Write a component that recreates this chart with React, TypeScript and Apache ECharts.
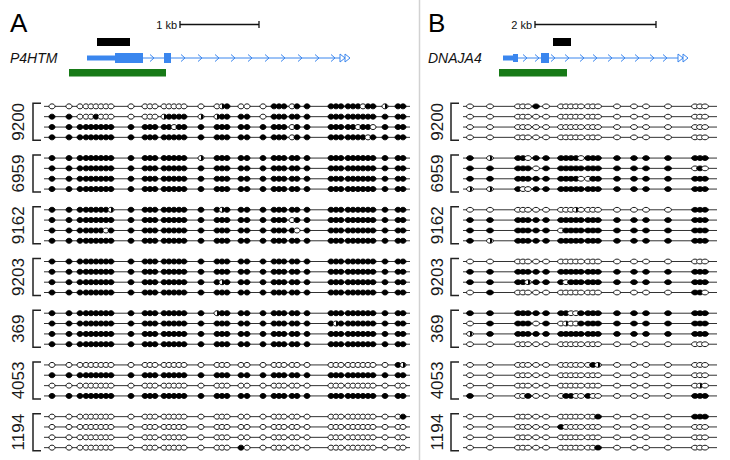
import React, { useEffect, useRef } from "react";
import * as echarts from "echarts";

const samples = ["9200", "6959", "9162", "9203", "369", "4053", "1194"];

// CpG site positions along each amplicon (relative units)
const sitesA = [8, 25, 36, 42, 47, 52, 57, 62, 67, 87, 101, 106, 111, 120, 125, 130, 135, 140, 157, 173, 178, 183, 197, 203, 219, 230, 235, 240, 248, 253, 263, 287, 292, 297, 304, 309, 314, 319, 324, 329, 341, 354, 359];
const sitesB = [7, 27, 55, 60, 65, 73, 83, 98, 103, 108, 113, 118, 125, 130, 135, 154, 171, 183, 205, 232, 237, 242];

// x = methylated, o = unmethylated, h = partially
const a9200 = [
  "ooooooooo o ooo ooooo o ohx oo o xxx oxx xxx xxxoxx h xx",
  "xxoooxooo o ooo hxxxx h hxx xx o xxx xxx xxx xxxxxx x xx",
  "xxxxxxxxx x xxx xxoxx x xxx xx x xxx oxx xxx xxoxxo x xx",
  "xxxxxxxxx x xxx xxxxx x xxx xx x xxx oxx xxx xxxxox x xx",
];
const a6959 = [
  "xxxxxxxxx x xxx xxxxx h xxx xx x xxx xxx xxx xxxxxx x xx",
  "xxxxxxxxx x xxx xxxxx x xxx xx x xxx xxx xxx xxxxxx x xx",
  "xxxxxxxxx x xxx xxxxx x xxx xx x xxx xxx xxx xxxxxx x xx",
  "xxxxxxxxx x xxx xxxxx x xxx xx x xxx xxx xxx xxxxxx x xx",
];
const a9162 = [
  "xxxxxxxxh x xxx xxxxx x xhx xx x xxx xxx xxx xxxxxx x xx",
  "xxxxxxxxx x xxx xxxxx x xxx xx x xxx oxx xxx xxxxxx x xx",
  "xxxxxxxox x xxx xxxxx x xxx xx x xxx xox xxx xxxxxx x xx",
  "xxxxxxxxx x xxx xxxxx x xxx xx x xxx xxx xxx xxxxxx x xx",
];
const a9203 = [
  "xxxxxxxxx x xxx xxxxx x xxx xx x xxx xxx xxx xxxxxx x xx",
  "xxxxxxxxx x xxx xxxxx x xxx xx x xxx xxx xxx xxxxxx x xx",
  "xxxxxxxxx x xxx xxxxx x xhx xx x xxx xxx xxx xxxxxx x xx",
  "xxxxxxxxx x xxx xxxxx x xxx xx x xxx xxx xxx xxxxxx x xx",
];
const a369 = [
  "xxxxxxxxx x xxx xxxxx x hxx xx x xxx xxx xxx xxxxxx x xx",
  "xxxxxxxxx x xxx xxxxx x xxx xx x xxx xxx xhx xxxxxx x xx",
  "xxxxxxxxx x xxx xxxxx x xxx xx x xxx xxx xxx xxxxxx x xx",
  "xxxxxxxxx x xxx xxxxx x xxx xx x xxx xxx xxx xxxxxx x xx",
];
const a4053 = [
  "ooooooooo o ooo ooooo o ooo oo o ooo ooo ooo oooooo o xh",
  "xxxxxxxxx x xxx xxxxx x xxx xx x xxx xxx xxx xxxxxx x xx",
  "ooooooooo o ooo ooooo o ooo oo o ooo ooo ooo oooooo o oo",
  "xxxxxxxxx x xxx xxxxx x xxx xx x xxx xxx xxx xxxxxx x xx",
];
const a1194 = [
  "ooooooooo o ooo ooooo o ooo oo o ooo ooo ooo oooooo o ox",
  "ooooooooo o ooo ooooo o ooo oo o ooo ooo ooo oooooo o oo",
  "ooooooooo o ooo ooooo o ooo oo o ooo ooo ooo oooooo o oo",
  "ooooooooo o ooo ooooo o ooo xo o ooo ooo ooo oooooo o oo",
];

const b9200 = [
  "o o ooo x o ooooo ooo o o o o ooo",
  "o o ooo o o ooooo ooo o o o o ooo",
  "o o ooo o o ooooo ooo o o o o ooo",
  "o o ooo o o ooooo ooo o o o o ooo",
];
const b6959 = [
  "x h xxo x x xxxxo xxx x x x x xxx",
  "x x xxx o x xxxxx xxx x x x x oxo",
  "x x xxx x x xxxxo oxx x x x x xxx",
  "h h xoo x x xxxxx xxx x x x x xxx",
];
const b9162 = [
  "o o ooo o o oooho ooo o o o o xxx",
  "x x xxx x x xxxxx xxx x x x x xxx",
  "x x xxx x x oxxxx xxx x x x x xxx",
  "x h xxx x x xxxxx xxx x x x x xxx",
];
const b9203 = [
  "o o ooo o o ooooo ooo o o o o ooo",
  "x x xxx x x xxxxx xxx x x x x xxx",
  "x x xxh x x xoxxx xxx x x x x xxx",
  "o x ooo o o ooooo ooo o o o o xxo",
];
const b369 = [
  "x x xxx x x xxoox xxx x x x x xxx",
  "o x xxx o x ohoox xxx x x x x xxx",
  "h x xxx x x xxxxx xxx x x x x xxx",
  "o o ooo o o ooooo ooo o o o o ooo",
];
const b4053 = [
  "o o ooo o o ooooo oxh o o o o ooo",
  "o o ooo o o ooooo ooo o o o o ooo",
  "o o ooo o o ooooo ooo o o o o oho",
  "x o oox o o oxxoo xoo o o o o xxx",
];
const b1194 = [
  "o o ooo o o ooooo oox o o o o xxx",
  "o o ooo o o xoooo ooo o o o o ooo",
  "o o ooo o o ooooo ooo o o o o ooo",
  "o o ooo o o ooooo oox o o o o ooo",
];

const panelA = [a9200, a6959, a9162, a9203, a369, a4053, a1194];
const panelB = [b9200, b6959, b9162, b9203, b369, b4053, b1194];

const ROW_OFF = [-15.5, -5.2, 5.2, 15.5];
const FONT = "Liberation Sans, Arial, sans-serif";
const BLUE = "#3a86ee";
const GREEN = "#177a17";

function makeRender(sites: number[], rows: string[][], axisMax: number, labelX: number, bracketX: number, rx: number, ry: number) {
  return (params: any, api: any) => {
    const g = api.value(1);
    const c = api.coord([0, g]);
    const x0 = c[0];
    const cy = c[1];
    const xEnd = api.coord([axisMax, g])[0];
    const children: any[] = [];
    children.push({
      type: "text",
      x: labelX,
      y: cy,
      rotation: Math.PI / 2,
      style: { text: samples[g], fontSize: 17, fontFamily: FONT, fill: "#1a1a1a", align: "center", verticalAlign: "middle" },
    });
    children.push({
      type: "polyline",
      shape: { points: [[bracketX + 8, cy - 18.5], [bracketX, cy - 18.5], [bracketX, cy + 18.5], [bracketX + 8, cy + 18.5]] },
      style: { stroke: "#222", lineWidth: 1.5, fill: null },
    });
    rows[g].forEach((str, r) => {
      const y = cy + ROW_OFF[r];
      children.push({ type: "line", shape: { x1: x0, y1: y, x2: xEnd, y2: y }, style: { stroke: "#333", lineWidth: 1 } });
      const states = str.replace(/ /g, "");
      sites.forEach((s, i) => {
        const x = api.coord([s, g])[0];
        const st = states[i];
        children.push({
          type: "ellipse",
          shape: { cx: x, cy: y, rx, ry },
          style: { fill: st === "x" ? "#000" : "#fff", stroke: "#000", lineWidth: 0.9 },
        });
        if (st === "h") {
          children.push({
            type: "sector",
            shape: { cx: x, cy: y, r0: 0, r: ry, startAngle: -Math.PI / 2, endAngle: Math.PI / 2, clockwise: true },
            style: { fill: "#000" },
          });
        }
      });
    });
    return { type: "group", children };
  };
}

function chevrons(xs: number[], y: number) {
  return xs.map((x) => ({
    type: "polyline",
    shape: { points: [[x - 2, y - 3.5], [x + 2, y], [x - 2, y + 3.5]] },
    style: { stroke: BLUE, lineWidth: 1, fill: null },
  }));
}

function endArrows(x: number, y: number) {
  return [0, 5].map((d) => ({
    type: "polygon",
    shape: { points: [[x + d, y - 4], [x + d + 5, y], [x + d, y + 4]] },
    style: { stroke: BLUE, lineWidth: 1, fill: "#fff" },
  }));
}

function scaleBar(x1: number, x2: number, y: number, label: string) {
  return [
    { type: "line", shape: { x1, y1: y, x2, y2: y }, style: { stroke: "#111", lineWidth: 1.3 } },
    { type: "line", shape: { x1, y1: y - 3.5, x2: x1, y2: y + 3.5 }, style: { stroke: "#111", lineWidth: 1.3 } },
    { type: "line", shape: { x1: x2, y1: y - 3.5, x2, y2: y + 3.5 }, style: { stroke: "#111", lineWidth: 1.3 } },
    { type: "text", x: x1 - 3, y, style: { text: label, fontSize: 11, fontFamily: FONT, fill: "#111", align: "right", verticalAlign: "middle" } },
  ];
}

export default function App() {
  const ref = useRef<HTMLDivElement>(null);
  useEffect(() => {
    if (!ref.current) return;
    const chart = echarts.init(ref.current, null, { renderer: "svg" });
    const graphics: any[] = [
      { type: "line", shape: { x1: 419.5, y1: 0, x2: 419.5, y2: 460 }, style: { stroke: "#d2d2d2", lineWidth: 1.5 } },
      { type: "text", x: 10, y: 23, style: { text: "A", fontSize: 26, fontFamily: FONT, fill: "#000", verticalAlign: "middle" } },
      { type: "text", x: 428, y: 23, style: { text: "B", fontSize: 26, fontFamily: FONT, fill: "#000", verticalAlign: "middle" } },
      ...scaleBar(180, 259, 24.5, "1 kb"),
      ...scaleBar(535, 656, 24.5, "2 kb"),
      { type: "rect", shape: { x: 97, y: 38, width: 33, height: 8 }, style: { fill: "#000" } },
      { type: "rect", shape: { x: 553, y: 38, width: 18, height: 8 }, style: { fill: "#000" } },
      { type: "text", x: 10, y: 58, style: { text: "P4HTM", fontSize: 14, fontStyle: "italic", fontFamily: FONT, fill: "#111", verticalAlign: "middle" } },
      { type: "text", x: 428, y: 58, style: { text: "DNAJA4", fontSize: 14, fontStyle: "italic", fontFamily: FONT, fill: "#111", verticalAlign: "middle" } },
      // gene model A
      { type: "line", shape: { x1: 87, y1: 58, x2: 340, y2: 58 }, style: { stroke: BLUE, lineWidth: 1 } },
      ...chevrons([152, 183, 200, 217, 233, 250, 267, 283, 300, 317, 333], 58),
      ...endArrows(340, 58),
      { type: "rect", shape: { x: 87, y: 55.5, width: 28, height: 5 }, style: { fill: BLUE } },
      { type: "rect", shape: { x: 115, y: 53, width: 28, height: 10 }, style: { fill: BLUE } },
      { type: "rect", shape: { x: 164, y: 53, width: 7, height: 10 }, style: { fill: BLUE } },
      { type: "rect", shape: { x: 69, y: 69, width: 97, height: 7.5 }, style: { fill: GREEN } },
      // gene model B
      { type: "line", shape: { x1: 503, y1: 58, x2: 678, y2: 58 }, style: { stroke: BLUE, lineWidth: 1 } },
      ...chevrons([525, 537, 553, 567, 582, 595, 610, 623, 637, 652, 665], 58),
      ...endArrows(678, 58),
      { type: "rect", shape: { x: 503, y: 55.5, width: 11, height: 5 }, style: { fill: BLUE } },
      { type: "rect", shape: { x: 513, y: 54, width: 5, height: 8 }, style: { fill: BLUE } },
      { type: "rect", shape: { x: 541, y: 53, width: 8, height: 10 }, style: { fill: BLUE } },
      { type: "rect", shape: { x: 499, y: 69, width: 68, height: 7.5 }, style: { fill: GREEN } },
    ];
    const data = samples.map((_, i) => [0, i]);
    chart.setOption({
      animation: false,
      backgroundColor: "#fff",
      graphic: graphics,
      grid: [
        { left: 44, width: 366, top: 96, height: 362 },
        { left: 463, width: 254, top: 96, height: 362 },
      ],
      xAxis: [
        { type: "value", gridIndex: 0, min: 0, max: 366, show: false },
        { type: "value", gridIndex: 1, min: 0, max: 254, show: false },
      ],
      yAxis: [
        { type: "category", gridIndex: 0, data: samples, inverse: true, show: false },
        { type: "category", gridIndex: 1, data: samples, inverse: true, show: false },
      ],
      series: [
        {
          type: "custom",
          xAxisIndex: 0,
          yAxisIndex: 0,
          data,
          encode: { x: 0, y: 1 },
          clip: false,
          renderItem: makeRender(sitesA, panelA, 366, 18, 33, 3.0, 2.5),
        },
        {
          type: "custom",
          xAxisIndex: 1,
          yAxisIndex: 1,
          data,
          encode: { x: 0, y: 1 },
          clip: false,
          renderItem: makeRender(sitesB, panelB, 254, 437, 451, 3.4, 2.4),
        },
      ],
    });
    return () => chart.dispose();
  }, []);
  return <div ref={ref} style={{ position: "fixed", left: 0, top: 0, width: 730, height: 460 }} />;
}
